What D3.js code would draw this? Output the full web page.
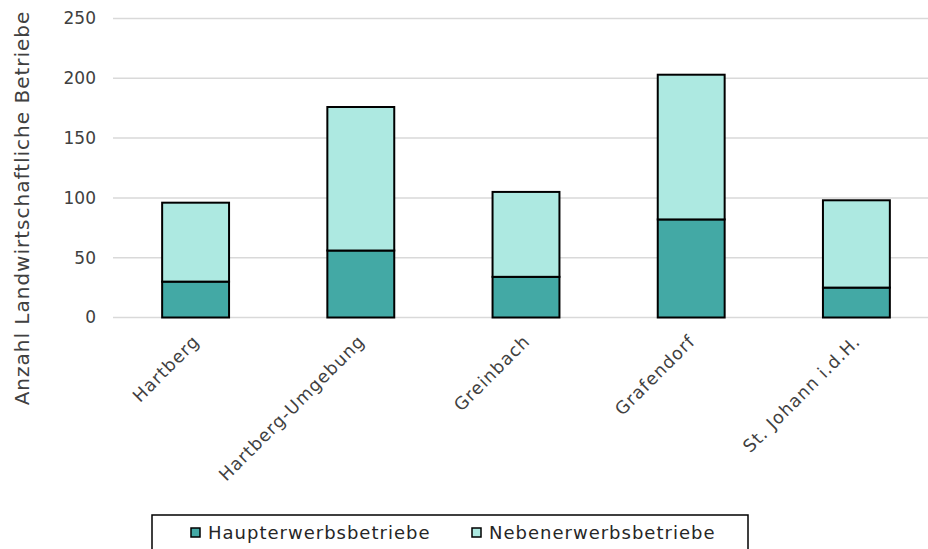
<!DOCTYPE html>
<html>
<head>
<meta charset="utf-8">
<script src="https://cdn.jsdelivr.net/npm/d3@7"></script>
<style>
  html, body { margin: 0; padding: 0; background: #fff; }
  svg { display: block; font-family: "DejaVu Sans", sans-serif; }
</style>
</head>
<body>
<svg id="chart" width="928" height="549"></svg>
<script>
// Landwirtschaftliche Betriebe je Gemeinde
const categories = ["Hartberg", "Hartberg-Umgebung", "Greinbach", "Grafendorf", "St. Johann i.d.H."];
const haupterwerb = [30, 56, 34, 82, 25];
const nebenerwerb = [66, 120, 71, 121, 73];
const seriesNames = ["Haupterwerbsbetriebe", "Nebenerwerbsbetriebe"];
const seriesColors = ["#43a9a5", "#ade9e1"];
const yTicks = [0, 50, 100, 150, 200, 250];
const yTitle = "Anzahl Landwirtschaftliche Betriebe";

const svg = d3.select("#chart");
const W = 928, H = 549;
const plot = { left: 113, right: 939, top: 18.5, bottom: 317.5 };

const rows = categories.map((c, i) => ({ cat: c, Haupterwerbsbetriebe: haupterwerb[i], Nebenerwerbsbetriebe: nebenerwerb[i] }));
const stacked = d3.stack().keys(seriesNames)(rows);

const x = d3.scaleBand().domain(categories).range([plot.left, plot.right])
  .paddingInner(0.595).paddingOuter(0.2975);
const y = d3.scaleLinear().domain([0, 250]).range([plot.bottom, plot.top]);

// horizontal gridlines
svg.append("g").selectAll("line").data(yTicks).join("line")
  .attr("x1", plot.left).attr("x2", W)
  .attr("y1", d => y(d)).attr("y2", d => y(d))
  .attr("stroke", "#d9d9d9").attr("stroke-width", 1.5);

// y axis tick labels
const yAxis = d3.axisLeft(y).tickValues(yTicks).tickSize(0).tickPadding(0);
const gy = svg.append("g").attr("transform", "translate(96,0)").call(yAxis);
gy.select(".domain").remove();
gy.selectAll("text").attr("font-size", 17).attr("fill", "#404040")
  .attr("font-family", "DejaVu Sans, sans-serif");

// stacked bars
svg.append("g").selectAll("g").data(stacked).join("g")
  .attr("fill", (d, i) => seriesColors[i])
  .selectAll("rect").data(d => d).join("rect")
  .attr("x", d => x(d.data.cat))
  .attr("width", x.bandwidth())
  .attr("y", d => y(d[1]))
  .attr("height", d => y(d[0]) - y(d[1]))
  .attr("stroke", "#000").attr("stroke-width", 2);

// category labels, rotated
const xAxis = d3.axisBottom(x).tickSize(0).tickPadding(0);
const gx = svg.append("g").attr("transform", `translate(0,${plot.bottom})`).call(xAxis);
gx.select(".domain").remove();
gx.selectAll("text")
  .attr("font-size", 17.5).attr("fill", "#404040")
  .attr("font-family", "DejaVu Sans, sans-serif")
  .attr("letter-spacing", 1)
  .attr("text-anchor", "end")
  .attr("dy", null).attr("y", null)
  .attr("transform", "translate(5,25) rotate(-45)");

// y axis title
svg.append("text")
  .attr("transform", "translate(29,208) rotate(-90)")
  .attr("text-anchor", "middle")
  .attr("font-size", 20).attr("letter-spacing", 1).attr("fill", "#404040")
  .text(yTitle);

// legend
const lg = svg.append("g");
lg.append("rect").attr("x", 152).attr("y", 515).attr("width", 596).attr("height", 50)
  .attr("fill", "#fff").attr("stroke", "#000").attr("stroke-width", 1.5);
const legendX = [191, 472];
seriesNames.forEach((name, i) => {
  lg.append("rect").attr("x", legendX[i]).attr("y", 528).attr("width", 9).attr("height", 9)
    .attr("fill", seriesColors[i]).attr("stroke", "#000").attr("stroke-width", 1.5);
  lg.append("text").attr("x", legendX[i] + 17).attr("y", 539)
    .attr("font-size", 18).attr("letter-spacing", 1).attr("fill", "#262626").text(name);
});
</script>
</body>
</html>
